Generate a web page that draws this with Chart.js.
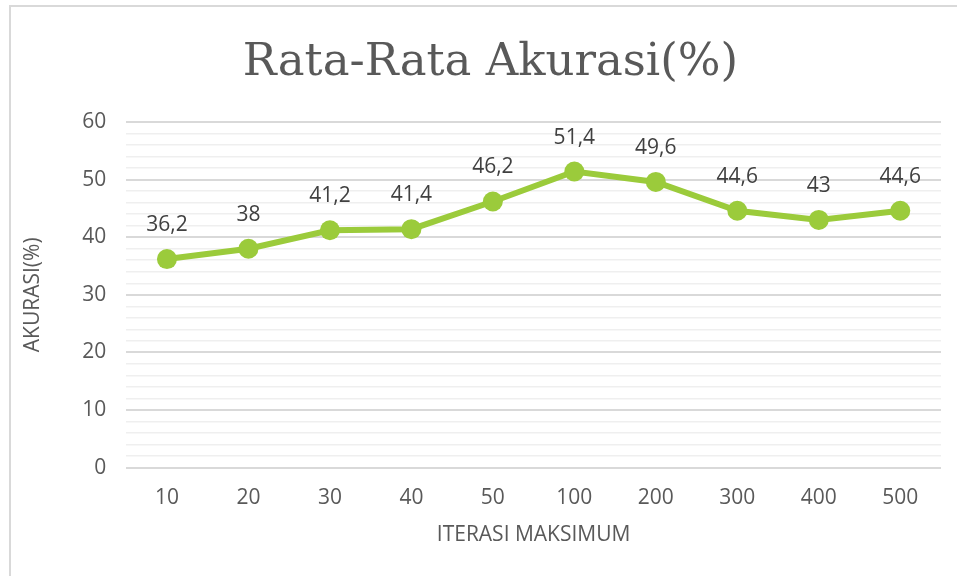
<!DOCTYPE html>
<html>
<head>
<meta charset="utf-8">
<script src="https://cdn.jsdelivr.net/npm/chart.js@4.4.1/dist/chart.umd.min.js"></script>
<style>
  html, body { margin: 0; padding: 0; background: #fff; }
  #wrap { position: relative; width: 957px; height: 576px; overflow: hidden; }
  #frame { position: absolute; left: 9px; top: 5px; width: 980px; height: 600px; border: 2px solid #d9d9d9; box-sizing: border-box; }
  #chart { position: absolute; left: 0; top: 0; }
</style>
</head>
<body>
<div id="wrap">
  <div id="frame"></div>
  <canvas id="chart" width="957" height="576"></canvas>
</div>
<script>
var iterasi = ["10", "20", "30", "40", "50", "100", "200", "300", "400", "500"];
var akurasi = [36.2, 38, 41.2, 41.4, 46.2, 51.4, 49.6, 44.6, 43, 44.6];
var yTicks = [0, 10, 20, 30, 40, 50, 60];

var hijau = "#9bcb3b";
var abu = "#595959";
var sans = "'Open Sans', 'Noto Sans', sans-serif";

// label nilai di atas tiap titik, pakai koma desimal
var labelNilai = {
  id: "labelNilai",
  afterDatasetsDraw: function(chart) {
    var ctx = chart.ctx;
    var meta = chart.getDatasetMeta(0);
    ctx.save();
    ctx.font = "21px " + sans;
    ctx.fillStyle = "#404040";
    ctx.textAlign = "center";
    ctx.textBaseline = "middle";
    meta.data.forEach(function(pt, i) {
      var teks = String(akurasi[i]).replace(".", ",");
      ctx.fillText(teks, pt.x, pt.y - 34);
    });
    ctx.restore();
  }
};

new Chart(document.getElementById("chart"), {
  type: "line",
  data: {
    labels: iterasi,
    datasets: [{
      data: akurasi,
      borderColor: hijau,
      backgroundColor: hijau,
      borderWidth: 6,
      pointRadius: 10,
      pointBorderWidth: 0,
      pointBackgroundColor: hijau,
      tension: 0
    }]
  },
  options: {
    responsive: false,
    animation: false,
    layout: { padding: { left: 40, right: 16, top: 0, bottom: 22 } },
    plugins: {
      legend: { display: false },
      tooltip: { enabled: false },
      title: {
        display: true,
        text: "Rata-Rata Akurasi(%)",
        color: abu,
        font: { family: "'DejaVu Serif', serif", size: 45, weight: "normal" },
        padding: { top: 36, bottom: 32 }
      }
    },
    scales: {
      x: {
        offset: true,
        grid: { display: false, drawTicks: false },
        border: { display: false },
        ticks: { color: abu, font: { family: sans, size: 21 }, padding: 18 },
        title: {
          display: true,
          text: "ITERASI MAKSIMUM",
          color: abu,
          font: { family: sans, size: 21 },
          padding: { top: -6, bottom: 6 }
        }
      },
      y: {
        min: 0,
        max: 60,
        border: { display: false },
        grid: {
          drawTicks: false,
          color: function(c) { return c.tick.value % 10 === 0 ? "#d9d9d9" : "#efefef"; },
          lineWidth: function(c) { return c.tick.value % 10 === 0 ? 2 : 1.5; }
        },
        ticks: {
          stepSize: 2,
          autoSkip: false,
          color: abu,
          font: { family: sans, size: 21 },
          padding: 20,
          callback: function(v) { return yTicks.indexOf(v) >= 0 ? v : ""; }
        },
        title: {
          display: true,
          text: "AKURASI(%)",
          color: abu,
          font: { family: sans, size: 21 },
          padding: { top: -20, bottom: 17 }
        }
      }
    }
  },
  plugins: [labelNilai]
});
</script>
</body>
</html>
